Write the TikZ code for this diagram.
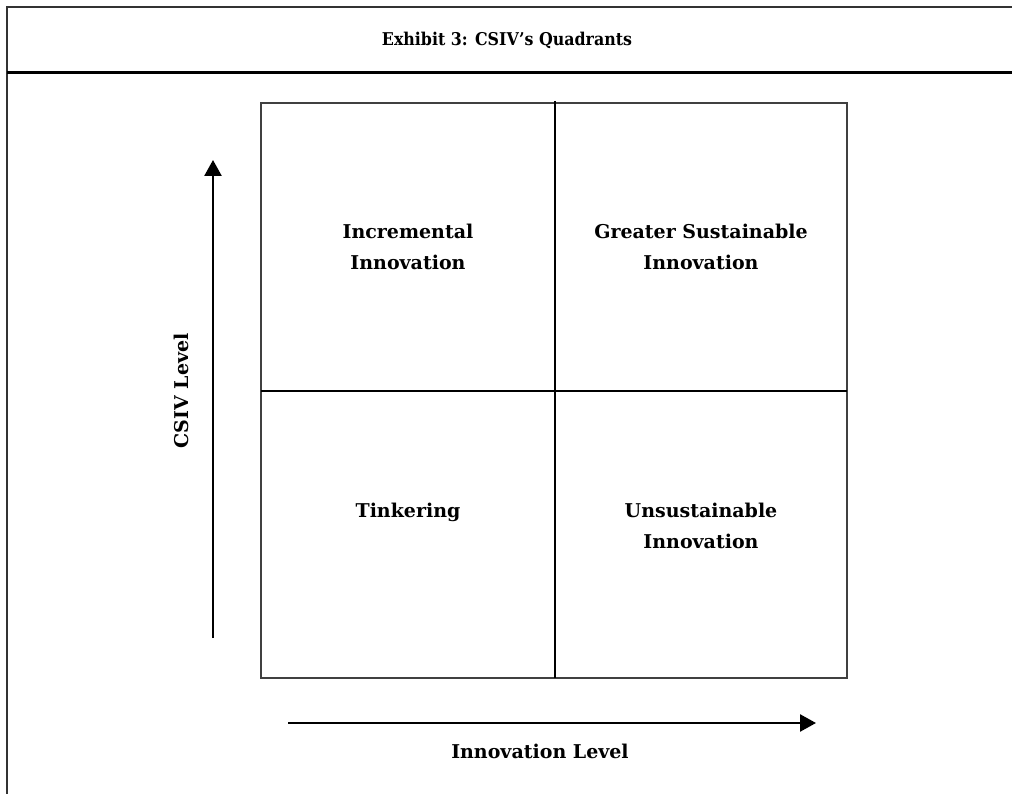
\documentclass[tikz,border=0pt]{standalone}
\usepackage{fontspec}
\setmainfont{DejaVu Serif}
\newfontfamily\titlefont{DejaVu Serif Condensed}
\usetikzlibrary{arrows.meta, positioning}

\tikzset{
  quadlabel/.style={font=\bfseries\fontsize{19}{31}\selectfont, align=center},
  axislabel/.style={font=\bfseries\fontsize{19}{24}\selectfont},
  axisarrow/.style={line width=2.5pt, -{Triangle[length=16pt, width=17pt]}},
  frameline/.style={line width=2pt, black!80},
}

\begin{document}
\begin{tikzpicture}[x=1pt, y=-1pt]

      \useasboundingbox (0,0) rectangle (1012,794);

      % Frame and title bar
      \draw[frameline] (7,794) -- (7,7) -- (1012,7);
      \draw[line width=3pt] (7,73) -- (1012,73);
      \node[font=\titlefont\bfseries\fontsize{17.6}{22}\selectfont] (title) at (507,40) {Exhibit 3: CSIV’s Quadrants};

      % Quadrant grid
      \draw[line width=1.8pt, black!75] (261,103) rectangle (847,678);
      \draw[line width=2pt] (555,101) -- (555,678);
      \draw[line width=2pt] (261,391) -- (847,391);

      % Quadrant labels
      \node[quadlabel] (incremental) at (408,247) {Incremental\\Innovation};
      \node[quadlabel] (greater) at (701,247) {Greater Sustainable\\Innovation};
      \node[quadlabel] (tinkering) at (408,512) {Tinkering};
      \node[quadlabel] (unsustainable) at (701,526) {Unsustainable\\Innovation};

      % Axes
      \coordinate (ybase) at (213,638);
      \coordinate (ytip) at (213,160);
      \coordinate (xbase) at (288,723);
      \coordinate (xtip) at (816,723);
      \draw[axisarrow] (ybase) -- (ytip);
      \draw[axisarrow] (xbase) -- (xtip);
      \node[axislabel, rotate=90] (csiv) at (181,391) {CSIV Level};
      \node[axislabel] (innov) [below=18pt of xbase, anchor=north, xshift=252pt] {Innovation Level};

\end{tikzpicture}
\end{document}
